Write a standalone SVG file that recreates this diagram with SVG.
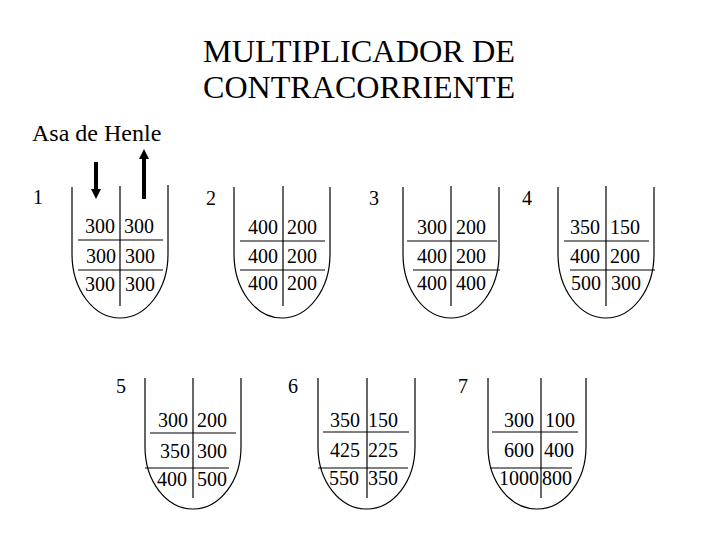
<svg xmlns="http://www.w3.org/2000/svg" width="720" height="540" viewBox="0 0 720 540">
<style>
  text { font-family: "Liberation Serif", "Times New Roman", serif; fill: #000; }
  .title { font-size: 32px; }
  .lbl { font-size: 24px; }
  .num { font-size: 20px; }
  .l { text-anchor: end; }
  .line { fill: none; stroke: #000; stroke-width: 1.2; }
</style>
<rect width="720" height="540" fill="#fff"/>
<g id="title">
  <text class="title" x="203" y="62" textLength="312" lengthAdjust="spacingAndGlyphs">MULTIPLICADOR DE</text>
  <text class="title" x="203" y="98" textLength="312" lengthAdjust="spacingAndGlyphs">CONTRACORRIENTE</text>
</g>
<text id="asa" class="lbl" x="32" y="141">Asa de Henle</text>
<g id="arrows">
  <line x1="96" y1="162" x2="96" y2="190" stroke="#000" stroke-width="4"/>
  <polygon points="91,189 101,189 96,199" fill="#000"/>
  <line x1="144" y1="199" x2="144" y2="158" stroke="#000" stroke-width="4"/>
  <polygon points="139,159 149,159 144,149" fill="#000"/>
</g>
<g id="labels" class="num">
  <text x="33" y="204">1</text>
  <text x="206" y="205">2</text>
  <text x="369" y="205">3</text>
  <text x="522" y="205">4</text>
  <text x="116" y="393">5</text>
  <text x="288" y="393">6</text>
  <text x="458" y="393">7</text>
</g>
<g id="loop1">
  <path class="line" d="M72,187 V254 A48,64 0 0 0 168,254 V185"/>
  <line class="line" x1="120" y1="186" x2="120" y2="306"/>
  <line class="line" x1="78" y1="240" x2="163" y2="240"/>
  <line class="line" x1="78" y1="270" x2="163" y2="270"/>
  <g class="num">
    <text class="l" x="115" y="233">300</text><text x="124" y="233">300</text>
    <text class="l" x="116" y="263">300</text><text x="125" y="263">300</text>
    <text class="l" x="115" y="291">300</text><text x="125" y="291">300</text>
  </g>
</g>
<g id="loop2">
  <path class="line" d="M234,187 V254 A48,64 0 0 0 330,254 V187"/>
  <line class="line" x1="283" y1="186" x2="283" y2="306"/>
  <line class="line" x1="240" y1="241" x2="325" y2="241"/>
  <line class="line" x1="240" y1="270" x2="325" y2="270"/>
  <g class="num">
    <text class="l" x="278" y="234">400</text><text x="287" y="234">200</text>
    <text class="l" x="278" y="263">400</text><text x="287" y="263">200</text>
    <text class="l" x="278" y="290">400</text><text x="287" y="290">200</text>
  </g>
</g>
<g id="loop3">
  <path class="line" d="M403,187 V254 A48,64 0 0 0 499,254 V187"/>
  <line class="line" x1="451" y1="186" x2="451" y2="306"/>
  <line class="line" x1="407" y1="241" x2="497" y2="241"/>
  <line class="line" x1="413" y1="270" x2="500" y2="270"/>
  <g class="num">
    <text class="l" x="447" y="234">300</text><text x="456" y="234">200</text>
    <text class="l" x="447" y="263">400</text><text x="456" y="263">200</text>
    <text class="l" x="447" y="290">400</text><text x="456" y="290">400</text>
  </g>
</g>
<g id="loop4">
  <path class="line" d="M558,187 V254 A48,64 0 0 0 654,254 V187"/>
  <line class="line" x1="606" y1="186" x2="606" y2="306"/>
  <line class="line" x1="564" y1="241" x2="649" y2="241"/>
  <line class="line" x1="570" y1="270" x2="655" y2="270"/>
  <g class="num">
    <text class="l" x="600" y="234">350</text><text x="610" y="234">150</text>
    <text class="l" x="600" y="263">400</text><text x="610" y="263">200</text>
    <text class="l" x="601" y="290">500</text><text x="611" y="290">300</text>
  </g>
</g>
<g id="loop5">
  <path class="line" d="M145,378 V447 A48,62 0 0 0 241,447 V378"/>
  <line class="line" x1="193" y1="378" x2="193" y2="498"/>
  <line class="line" x1="150" y1="433" x2="236" y2="433"/>
  <line class="line" x1="145" y1="468" x2="229" y2="468"/>
  <g class="num">
    <text class="l" x="188" y="427">300</text><text x="197" y="427">200</text>
    <text class="l" x="190" y="458">350</text><text x="197" y="458">300</text>
    <text class="l" x="187" y="486">400</text><text x="197" y="486">500</text>
  </g>
</g>
<g id="loop6">
  <path class="line" d="M318,378 V447 A48.5,62 0 0 0 415,447 V378"/>
  <line class="line" x1="367" y1="378" x2="367" y2="498"/>
  <line class="line" x1="323" y1="432" x2="409" y2="432"/>
  <line class="line" x1="318" y1="468" x2="408" y2="468"/>
  <g class="num">
    <text class="l" x="360" y="427">350</text><text x="368" y="427">150</text>
    <text class="l" x="360" y="457">425</text><text x="368" y="457">225</text>
    <text class="l" x="359" y="485">550</text><text x="368" y="485">350</text>
  </g>
</g>
<g id="loop7">
  <path class="line" d="M488,378 V447 A49,62 0 0 0 586,447 V378"/>
  <line class="line" x1="541" y1="378" x2="541" y2="498"/>
  <line class="line" x1="492" y1="432" x2="578" y2="432"/>
  <line class="line" x1="490" y1="468" x2="572" y2="468"/>
  <g class="num">
    <text class="l" x="534" y="427">300</text><text x="545" y="427">100</text>
    <text class="l" x="534" y="457">600</text><text x="544" y="457">400</text>
    <text class="l" x="539" y="485">1000</text><text x="542" y="485">800</text>
  </g>
</g>
</svg>
